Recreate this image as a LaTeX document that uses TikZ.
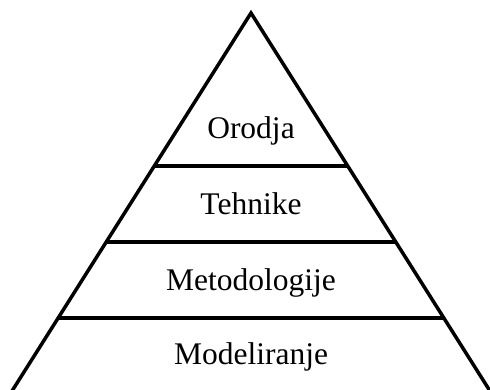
\documentclass[tikz,border=0pt]{standalone}
\usepackage{fontspec}
\setmainfont{Liberation Serif}
\begin{document}
\begin{tikzpicture}[x=1pt,y=-1pt,
  edge/.style={line width=3.5pt,line join=miter,line cap=butt},
  level/.style={anchor=base,inner sep=0pt,font=\fontsize{31.5}{36}\selectfont}]
  \useasboundingbox (0,0) rectangle (490,389);
  % pyramid outline
  \coordinate (apex) at (251,13);
  \coordinate (bl) at (12,391);
  \coordinate (br) at (490,391);
  \draw[edge] (bl) -- (apex) -- (br);
  % dividing lines between levels
  \coordinate (l1) at (155,166);  \coordinate (r1) at (347,166);
  \coordinate (l2) at (107,242);  \coordinate (r2) at (395,242);
  \coordinate (l3) at (59,318);   \coordinate (r3) at (443,318);
  \draw[edge] (l1) -- (r1);
  \draw[edge] (l2) -- (r2);
  \draw[edge] (l3) -- (r3);
  % level labels
  \node[level] (orodja) at (251,138) {Orodja};
  \node[level] (tehnike) at (251,214) {Tehnike};
  \node[level] (metod) at (251,290) {Metodologije};
  \node[level] (model) at (251,364) {Modeliranje};
\end{tikzpicture}
\end{document}
